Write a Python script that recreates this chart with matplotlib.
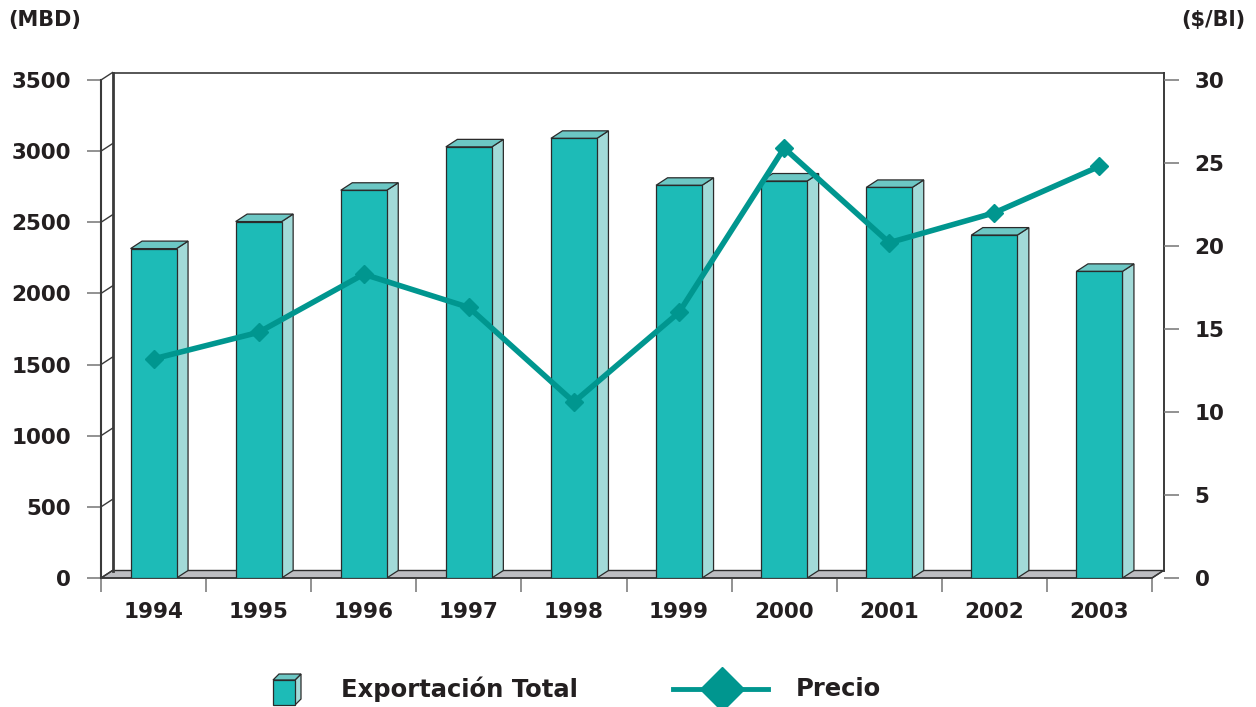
import numpy as np
import matplotlib
matplotlib.use("Agg")
import matplotlib.pyplot as plt
from matplotlib.patches import Rectangle, Polygon
from matplotlib.lines import Line2D

# ---------------- data ----------------
years = ["1994", "1995", "1996", "1997", "1998", "1999", "2000", "2001", "2002", "2003"]
exportacion = [2315, 2505, 2725, 3030, 3090, 2760, 2790, 2745, 2410, 2155]   # MBD
precio = [13.2, 14.8, 18.3, 16.3, 10.6, 16.0, 25.9, 20.2, 22.0, 24.8]         # $/Bl
left_ticks = list(range(0, 3501, 500))
right_ticks = list(range(0, 31, 5))

# ---------------- style ----------------
plt.rcParams['font.family'] = ['DejaVu Sans']
plt.rcParams['font.weight'] = 'bold'
TXT = '#231f20'
FRONT = '#1dbbb7'
SIDE = '#a2dad8'
TOP = '#6cc7c4'
EDGE = '#2b2b2b'
LINE = '#00968f'
FLOOR = '#bcbdc1'
TICKC = '#7f7f7f'

W, H = 1256, 707
fig = plt.figure(figsize=(W / 100, H / 100), dpi=100)
L_px, R_px, B_px, T_px = 101, 1152, 578, 80
ax = fig.add_axes([L_px / W, (H - B_px) / H, (R_px - L_px) / W, (B_px - T_px) / H])

n = len(years)
x = np.arange(n)
ymax = 3500
ax.set_xlim(-0.5, n - 0.5)
ax.set_ylim(0, ymax)

# depth offsets (pixels -> data units)
DX, DY = 11.5, 7.5
ddx = DX / ((R_px - L_px) / n)
ddy = DY / (B_px - T_px) * ymax
bw = 46 / ((R_px - L_px) / n)

# floor
ax.add_patch(Polygon([(-0.5, 0), (n - 0.5, 0), (n - 0.5 + ddx, ddy), (-0.5 + ddx, ddy)],
                     closed=True, facecolor=FLOOR, edgecolor=EDGE, lw=1.0, zorder=1, clip_on=False))
# back wall
ax.plot([-0.5 + ddx, -0.5 + ddx], [ddy, ymax + ddy], color='#3a3a3a', lw=2.0, zorder=1.5, clip_on=False)
ax.plot([-0.5 + ddx, n - 0.5 + ddx], [ymax + ddy, ymax + ddy], color='#3a3a3a', lw=1.2, zorder=1.5, clip_on=False)
ax.plot([n - 0.5 + ddx, n - 0.5 + ddx], [ddy, ymax + ddy], color='#3a3a3a', lw=1.4, zorder=1.5, clip_on=False)
# side wall slants
for t in left_ticks:
    ax.plot([-0.5, -0.5 + ddx], [t, t + ddy], color='#3a3a3a', lw=1.0, zorder=1.5, clip_on=False)
ax.plot([n - 0.5, n - 0.5 + ddx], [0, ddy], color='#3a3a3a', lw=1.0, zorder=1.5, clip_on=False)

# bars
for i, v in enumerate(exportacion):
    x0, x1 = i - bw / 2, i + bw / 2
    ax.add_patch(Polygon([(x1, 0), (x1, v), (x1 + ddx, v + ddy), (x1 + ddx, ddy)], closed=True,
                         facecolor=SIDE, edgecolor=EDGE, lw=0.9, zorder=3))
    ax.add_patch(Polygon([(x0, v), (x1, v), (x1 + ddx, v + ddy), (x0 + ddx, v + ddy)], closed=True,
                         facecolor=TOP, edgecolor=EDGE, lw=0.9, zorder=3))
    ax.add_patch(Rectangle((x0, 0), bw, v, facecolor=FRONT, edgecolor=EDGE, lw=0.9, zorder=4))

# axes styling
for s in ['top', 'right']:
    ax.spines[s].set_visible(False)
ax.spines['left'].set_color('#3a3a3a')
ax.spines['left'].set_linewidth(1.5)
ax.spines['left'].set_zorder(2)
ax.spines['bottom'].set_color('#3a3a3a')
ax.spines['bottom'].set_linewidth(1.2)
ax.spines['bottom'].set_zorder(2)

ax.set_yticks(left_ticks)
ax.set_yticklabels([str(t) for t in left_ticks])
ax.tick_params(axis='y', which='major', length=10, width=1.2, color=TICKC, pad=11.5,
               labelsize=15.5, labelcolor=TXT)
ax.set_xticks(x)
ax.set_xticklabels(years)
ax.set_xticks(np.arange(-0.5, n, 1), minor=True)
ax.tick_params(axis='x', which='major', length=0, pad=17, labelsize=15.5, labelcolor=TXT)
ax.tick_params(axis='x', which='minor', length=10, width=1.2, color=TICKC)

# right axis (price)
ax2 = ax.twinx()
ax2.set_ylim(0, 30)
for s in ['top', 'left', 'bottom']:
    ax2.spines[s].set_visible(False)
ax2.spines['right'].set_position(('outward', DX * 72 / 100))
ax2.spines['right'].set_visible(False)
ax2.set_yticks(right_ticks)
ax2.set_yticklabels([str(t) for t in right_ticks])
ax2.tick_params(axis='y', length=10.5, width=1.2, color=TICKC, pad=12, labelsize=15.5, labelcolor=TXT)
ax2.plot(x, precio, color=LINE, lw=4.0, marker='D', ms=9, mfc=LINE, mec=LINE,
         solid_joinstyle='miter', zorder=5, clip_on=False)

# unit titles
fig.text(8 / W, 1 - 20 / H, "(MBD)", fontsize=15, color=TXT, ha='left', va='center')
fig.text(1245 / W, 1 - 20 / H, "($/Bl)", fontsize=15, color=TXT, ha='right', va='center')

# legend (manual)
def fx(px):
    return px / W

def fy(py):
    return 1 - py / H

tf = fig.transFigure
lx0, lx1, ly0, ly1 = 273, 295, 680, 705
ldx, ldy = 6, 6
fig.patches.append(Polygon([(fx(lx1), fy(ly1)), (fx(lx1), fy(ly0)), (fx(lx1 + ldx), fy(ly0 - ldy)),
                            (fx(lx1 + ldx), fy(ly1 - ldy))], closed=True, transform=tf,
                           facecolor=SIDE, edgecolor=EDGE, lw=0.9))
fig.patches.append(Polygon([(fx(lx0), fy(ly0)), (fx(lx1), fy(ly0)), (fx(lx1 + ldx), fy(ly0 - ldy)),
                            (fx(lx0 + ldx), fy(ly0 - ldy))], closed=True, transform=tf,
                           facecolor=TOP, edgecolor=EDGE, lw=0.9))
fig.patches.append(Rectangle((fx(lx0), fy(ly1)), fx(lx1) - fx(lx0), fy(ly0) - fy(ly1), transform=tf,
                             facecolor=FRONT, edgecolor=EDGE, lw=0.9))
fig.text(fx(341), fy(689), "Exportación Total", fontsize=17.5, color=TXT, ha='left', va='center')

fig.lines.append(Line2D([fx(673), fx(768)], [fy(689), fy(689)], transform=tf, color=LINE, lw=3.5))
fig.lines.append(Line2D([fx(722)], [fy(689)], transform=tf, color=LINE, marker='D', ms=22,
                        mfc=LINE, mec=LINE, lw=0))
fig.text(fx(796), fy(689), "Precio", fontsize=17.5, color=TXT, ha='left', va='center')

fig.savefig("out.png", dpi=100, facecolor='white')
